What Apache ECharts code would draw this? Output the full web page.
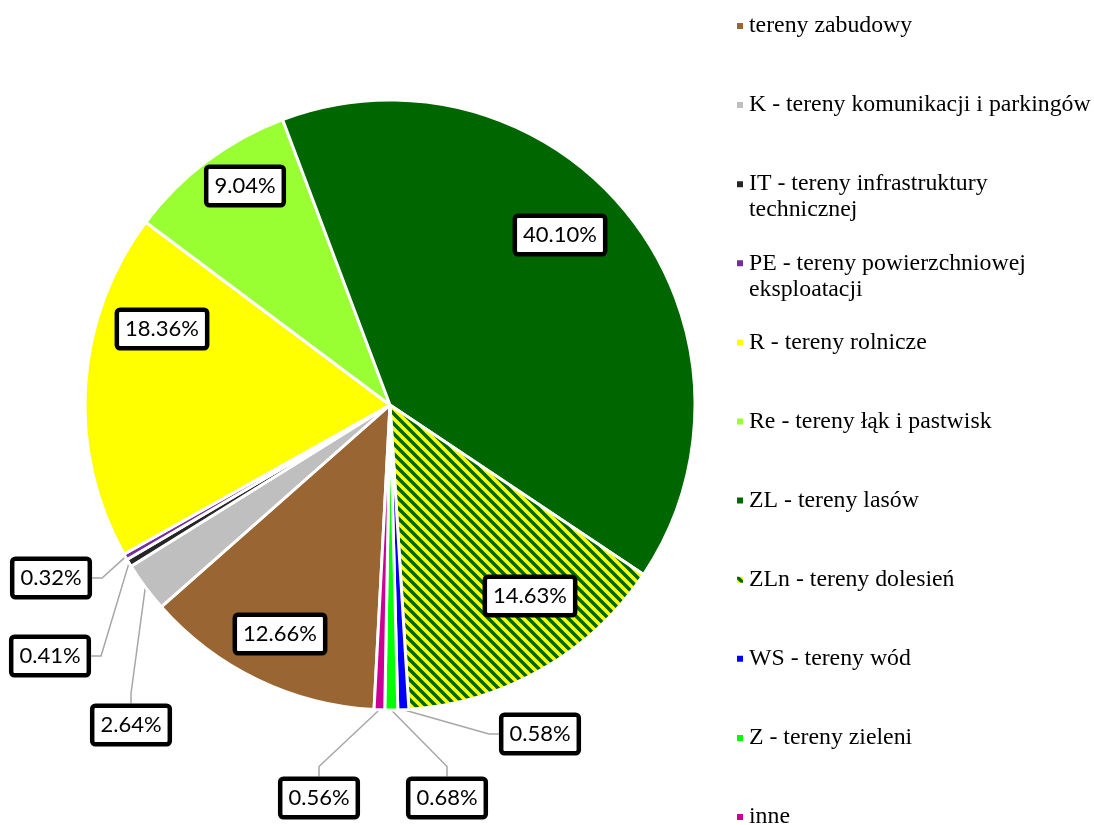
<!DOCTYPE html>
<html>
<head>
<meta charset="utf-8">
<script src="https://cdn.jsdelivr.net/npm/echarts@6/dist/echarts.min.js"></script>
<style>
    html, body { margin: 0; padding: 0; background: #fff; }
    #chart { width: 1094px; height: 825px; }
</style>
</head>
<body>
<div id="chart"></div>
<script>

const categories = [
    "tereny zabudowy",
    "K - tereny komunikacji i parkingów",
    "IT - tereny infrastruktury\ntechnicznej",
    "PE - tereny powierzchniowej\neksploatacji",
    "R - tereny rolnicze",
    "Re - tereny łąk i pastwisk",
    "ZL - tereny lasów",
    "ZLn - tereny dolesień",
    "WS - tereny wód",
    "Z - tereny zieleni",
    "inne"
];

const shares = [12.66, 2.64, 0.41, 0.32, 18.36, 9.04, 40.10, 14.63, 0.58, 0.68, 0.56];

const colors = [
    "#996633", "#bfbfbf", "#262626", "#7030a0", "#ffff00",
    "#99ff33", "#006600", null, "#0000ff", "#00ff00", "#cc0099"
];

// label box centres (px), laid out by hand like the original
const labelPos = [
    [280, 634], [131, 725], [50, 656], [51, 578], [162, 329],
    [245, 186], [560, 235], [530, 596], [540, 734], [447, 798], [319, 798]
];

const insideLabel = [true, false, false, false, true, true, true, true, false, false, false];

// striped fill for ZLn
function stripes(){

    const c = document.createElement("canvas");
    const s = 10;
    c.width = s;
    c.height = s;

    const ctx = c.getContext("2d");
    ctx.fillStyle = "#ffff00";
    ctx.fillRect(0, 0, s, s);

    ctx.strokeStyle = "#006600";
    ctx.lineWidth = 3.5;
    ctx.beginPath();
    ctx.moveTo(-2, -2); ctx.lineTo(s + 2, s + 2);
    ctx.moveTo(-2, s - 2); ctx.lineTo(2, s + 2);
    ctx.moveTo(s - 2, -2); ctx.lineTo(s + 2, 2);
    ctx.stroke();

    return c;
}

const pattern = { image: stripes(), repeat: "repeat" };

const chart = echarts.init(document.getElementById("chart"));

const pieData = categories.map((name, i) => ({
    name: name,
    value: shares[i],
    itemStyle: { color: colors[i] || pattern },
    labelLine: { show: !insideLabel[i] }
}));

chart.setOption({

    animation: false,

    legend: {
        orient: "vertical",
        left: 735,
        top: -13,
        height: 900,
        padding: 0,
        itemGap: 1.1,
        itemWidth: 8,
        itemHeight: 8,
        icon: "rect",
        selectedMode: false,
        data: categories,
        formatter: name => " \n" + name + (name.indexOf("\n") >= 0 ? "" : "\n "),
        textStyle: {
            fontFamily: "Liberation Serif",
            fontSize: 23.8,
            lineHeight: 26,
            color: "#000"
        }
    },

    series: [
        {
            type: "pie",
            center: [390, 405],
            radius: 305,
            startAngle: -93,
            clockwise: true,
            avoidLabelOverlap: false,
            itemStyle: {
                borderColor: "#fff",
                borderWidth: 3
            },
            label: {
                show: true,
                position: "outside",
                formatter: p => p.value.toFixed(2) + "%",
                fontFamily: "Lato",
                fontSize: 22,
                lineHeight: 26,
                color: "#000",
                backgroundColor: "#fff",
                borderColor: "#000",
                borderWidth: 4.5,
                borderRadius: 1,
                padding: [4, 6]
            },
            labelLine: {
                length: 10,
                length2: 10,
                lineStyle: {
                    color: "#a6a6a6",
                    width: 1.5
                }
            },
            labelLayout: p => ({
                x: labelPos[p.dataIndex][0],
                y: labelPos[p.dataIndex][1],
                align: "center",
                verticalAlign: "middle"
            }),
            emphasis: { disabled: true },
            data: pieData
        }
    ]
});

</script>
</body>
</html>
